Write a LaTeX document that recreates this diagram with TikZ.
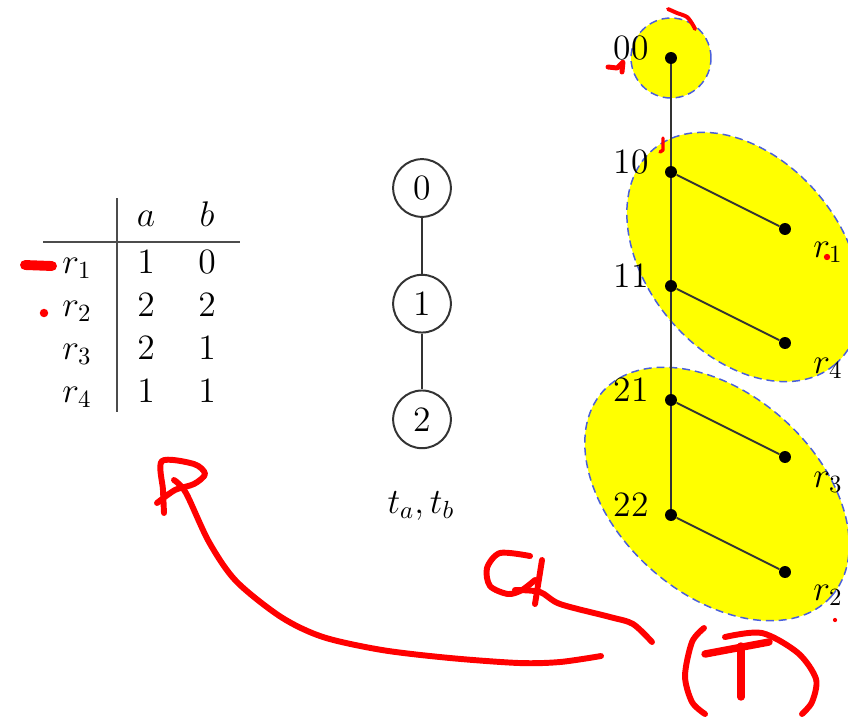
\documentclass[tikz,border=0pt]{standalone}
\usepackage{amsmath, amssymb}
\usepackage{xcolor}
\usepackage{tikz}
\usetikzlibrary{positioning, calc}
\definecolor{hilite}{HTML}{FFFF00}
\definecolor{rim}{HTML}{4A5FDB}
\definecolor{ink}{HTML}{FF0000}

\begin{document}
\begin{tikzpicture}[
    x=0.0142cm, y=-0.0142cm,
    node distance=0.795cm,
    every node/.style={inner sep=0pt},
    cell/.style={anchor=base, font=\Large},
    rule/.style={draw=black!70, line width=0.8pt},
    vert/.style={circle, draw=black!80, line width=0.8pt,
                 minimum size=0.82cm, font=\Large},
    dot/.style={circle, fill=black, minimum size=0.17cm},
    tag/.style={anchor=base, font=\Large},
    edge/.style={draw=black!80, line width=0.8pt},
    blob/.style={fill=hilite, draw=rim, line width=0.6pt,
                 dash pattern=on 3.2pt off 2pt},
    scrawl/.style={draw=ink, line width=2.4pt, line cap=round,
                   line join=round}
]
\useasboundingbox (0,0) rectangle (848,716);

% relation
\node[cell] (ha) at (146,226) {$a$};
\node[cell] (hb) at (207,226) {$b$};
\node[cell] (r1) at (77,273) {$r_1$};
\node[cell] (r2) at (77,316) {$r_2$};
\node[cell] (r3) at (77,359) {$r_3$};
\node[cell] (r4) at (77,402) {$r_4$};
\node[cell] (a1) at (146,273) {$1$};
\node[cell] (b1) at (207,273) {$0$};
\node[cell] (a2) at (146,316) {$2$};
\node[cell] (b2) at (207,316) {$2$};
\node[cell] (a3) at (146,359) {$2$};
\node[cell] (b3) at (207,359) {$1$};
\node[cell] (a4) at (146,402) {$1$};
\node[cell] (b4) at (207,402) {$1$};
\draw[rule] (117,198) -- (117,412);
\draw[rule] (43,242) -- (240,242);

% domain chain
\node[vert] (v0) at (422,188) {0};
\node[vert, below=of v0] (v1) {1};
\node[vert, below=of v1] (v2) {2};
\draw[edge] (v0) -- (v1);
\draw[edge] (v1) -- (v2);
\node[font=\Large] (tt) at (421,506) {$t_a, t_b$};

% groups
\filldraw[blob] (671,58) circle [radius=0.568cm];
\filldraw[blob, rotate around={-50:(744,257)}]
    (744,257) ellipse [x radius=2.0cm, y radius=1.38cm];
\filldraw[blob, rotate around={-42:(717,494)}]
    (717,494) ellipse [x radius=2.18cm, y radius=1.42cm];

% tree
\node[dot] (n00) at (671,58) {};
\node[dot] (n10) at (671,172) {};
\node[dot] (n11) at (671,286) {};
\node[dot] (n21) at (671,400) {};
\node[dot] (n22) at (671,515) {};
\node[dot] (m1) at (785,229) {};
\node[dot] (m4) at (785,343) {};
\node[dot] (m3) at (785,457) {};
\node[dot] (m2) at (785,572) {};
\draw[edge] (n00) -- (n10) -- (n11) -- (n21) -- (n22);
\draw[edge] (n10) -- (m1);
\draw[edge] (n11) -- (m4);
\draw[edge] (n21) -- (m3);
\draw[edge] (n22) -- (m2);

\node[tag] (l00) at (631,59) {00};
\node[tag] (l10) at (631,173) {10};
\node[tag] (l11) at (631,287) {11};
\node[tag] (l21) at (631,401) {21};
\node[tag] (l22) at (631,516) {22};
\node[tag] (k1) at (828,257) {$r_1$};
\node[tag] (k4) at (828,373) {$r_4$};
\node[tag] (k3) at (828,487) {$r_3$};
\node[tag] (k2) at (828,600) {$r_2$};

% hand marks
\draw[scrawl, line width=4pt] (25,265) -- (52,266);
\fill[ink] (44,313) circle [radius=0.06cm];
\draw[scrawl, line width=1.6pt] plot[smooth] coordinates
    {(668,9) (677,13) (687,17) (693,25) (695,29)};
\draw[scrawl, line width=2pt] (608,67) -- (617,68) -- (623,62) -- (622,72);
\draw[scrawl, line width=1.4pt] (663,138) -- (663,150) -- (660,152);
\fill[ink] (827,257) circle [radius=0.045cm];
\fill[ink] (835,620) circle [radius=0.03cm];

\draw[scrawl] plot[smooth] coordinates
    {(601,656) (560,662) (519,663) (450,658) (382,650) (323,637)
     (281,617) (236,581) (209,542) (186,493) (174,480)};
\draw[scrawl] plot[smooth] coordinates
    {(164,513) (163,490) (162,461) (194,464) (205,474) (194,484)
     (175,490) (157,503)};
\draw[scrawl] plot[smooth] coordinates
    {(530,556) (500,553) (487,568) (490,586) (508,594) (522,590)
     (535,580)};
\draw[scrawl] (542,560) -- (535,604);
\draw[scrawl] plot[smooth] coordinates
    {(515,590) (540,592) (560,604) (610,617) (633,624) (652,642)};
\draw[scrawl] plot[smooth] coordinates
    {(704,628) (692,642) (685,676) (692,702) (705,714)};
\draw[scrawl] plot[smooth] coordinates
    {(725,637) (762,633) (798,653) (816,679) (812,702) (802,714)};
\draw[scrawl, line width=3pt] (705,654) -- (769,642);
\draw[scrawl, line width=3pt] (741,646) -- (741,697);

\end{tikzpicture}
\end{document}
